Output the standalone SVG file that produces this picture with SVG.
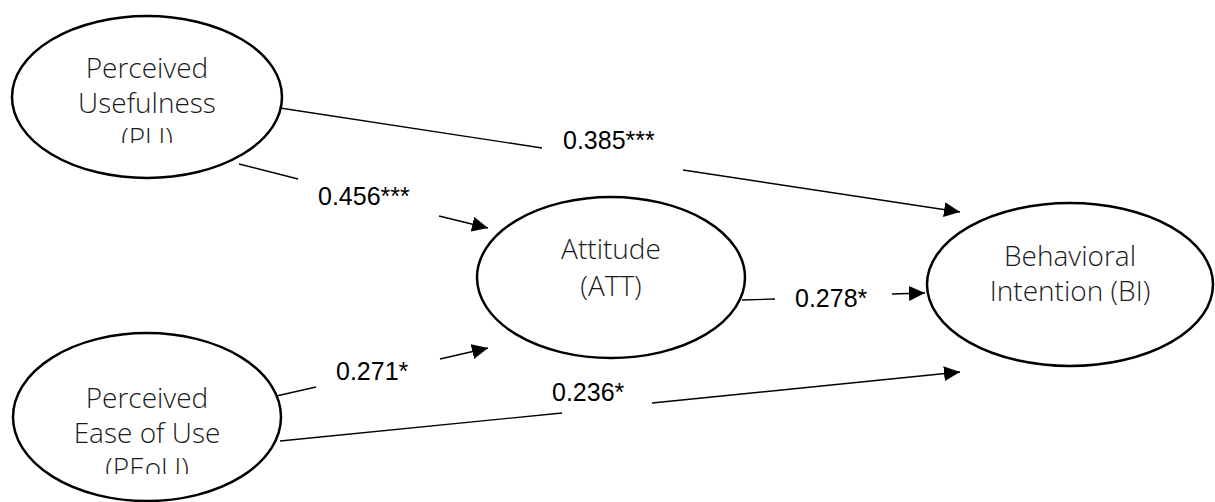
<svg xmlns="http://www.w3.org/2000/svg" width="1215" height="502" viewBox="0 0 1215 502">
<style>
.node{fill:#fff;stroke:#000;stroke-width:2.5}
.nt{font-family:"Open Sans","DejaVu Sans",sans-serif;font-size:28px;font-weight:300;fill:#1a1a1a;text-anchor:middle}
.edge{stroke:#000;stroke-width:1.4;fill:none}
.lbl{font-family:"Liberation Sans",Arial,sans-serif;font-size:25px;fill:#000}
</style>
<defs>
<marker id="ah" markerUnits="userSpaceOnUse" markerWidth="17" markerHeight="15" refX="16" refY="7.5" orient="auto">
<path d="M0,0 L16,7.5 L0,15 Z" fill="#000"/>
</marker>
<clipPath id="cpu"><rect x="0" y="0" width="300" height="143"/></clipPath>
<clipPath id="cpe"><rect x="0" y="330" width="300" height="144"/></clipPath>
</defs>
<g id="connectors">
<line class="edge" x1="280" y1="108" x2="542" y2="148"/>
<line class="edge" x1="683" y1="170" x2="960" y2="212" marker-end="url(#ah)"/>
<line class="edge" x1="239" y1="164" x2="298" y2="179"/>
<line class="edge" x1="439" y1="216" x2="488" y2="228" marker-end="url(#ah)"/>
<line class="edge" x1="272" y1="397" x2="316" y2="387"/>
<line class="edge" x1="440" y1="359" x2="488" y2="348" marker-end="url(#ah)"/>
<line class="edge" x1="280" y1="441" x2="562" y2="413"/>
<line class="edge" x1="652" y1="403" x2="960" y2="372" marker-end="url(#ah)"/>
<line class="edge" x1="742" y1="300" x2="775" y2="299"/>
<line class="edge" x1="892" y1="294" x2="925" y2="293" marker-end="url(#ah)"/>
<text class="lbl" x="563" y="149">0.385***</text>
<text class="lbl" x="318" y="205">0.456***</text>
<text class="lbl" x="336" y="380">0.271*</text>
<text class="lbl" x="552" y="401">0.236*</text>
<text class="lbl" x="795" y="307">0.278*</text>
</g>
<g id="PU">
<ellipse class="node" cx="147" cy="97" rx="135" ry="81"/>
<g clip-path="url(#cpu)">
<text class="nt" x="147" y="78">Perceived</text>
<text class="nt" x="147" y="113">Usefulness</text>
<text class="nt" x="147" y="148">(PU)</text>
</g>
</g>
<g id="PEoU">
<ellipse class="node" cx="147" cy="417" rx="134" ry="84"/>
<g clip-path="url(#cpe)">
<text class="nt" x="147" y="408">Perceived</text>
<text class="nt" x="147" y="443">Ease of Use</text>
<text class="nt" x="147" y="478">(PEoU)</text>
</g>
</g>
<g id="ATT">
<ellipse class="node" cx="611" cy="277.5" rx="134" ry="80.5"/>
<text class="nt" x="611" y="259">Attitude</text>
<text class="nt" x="611" y="296">(ATT)</text>
</g>
<g id="BI">
<ellipse class="node" cx="1070" cy="284.5" rx="143" ry="81.5"/>
<text class="nt" x="1070" y="266">Behavioral</text>
<text class="nt" x="1070" y="301">Intention (BI)</text>
</g>
</svg>
